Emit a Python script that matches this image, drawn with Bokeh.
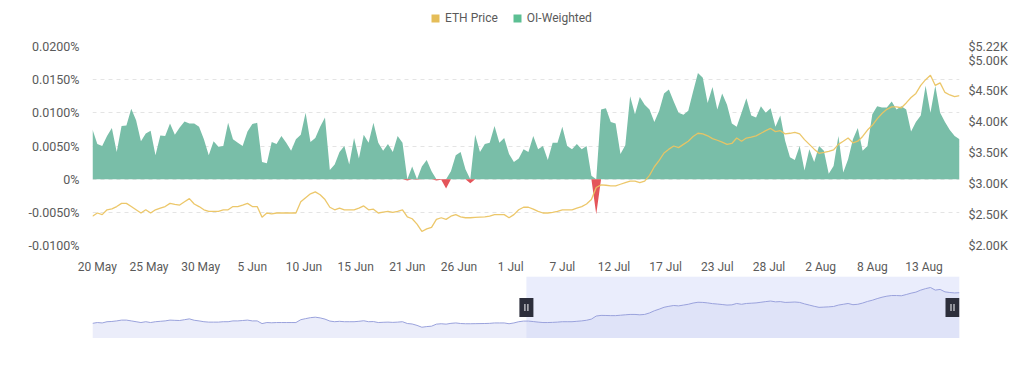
import numpy as np
import pandas as pd
from bokeh.plotting import figure
from bokeh.models import (Range1d, LinearAxis, FixedTicker, CustomJSTickFormatter,
                          Legend, LegendItem, BoxAnnotation, ColumnDataSource)
from bokeh.layouts import column
from bokeh.embed import file_html
from bokeh.resources import INLINE

# ---------------- data ----------------
start_time = "2025-05-19 12:00"
step = "12h"

# OI-weighted funding rate, in percent
oi_weighted = [
    0.0075, 0.0053, 0.0050, 0.0065, 0.0077, 0.0041, 0.0080, 0.0081, 0.0106, 0.0089,
    0.0057, 0.0069, 0.0073, 0.0036, 0.0066, 0.0065, 0.0084, 0.0067, 0.0078, 0.0087,
    0.0084, 0.0084, 0.0079, 0.0060, 0.0036, 0.0057, 0.0049, 0.0050, 0.0085, 0.0060,
    0.0055, 0.0050, 0.0072, 0.0083, 0.0085, 0.0026, 0.0024, 0.0056, 0.0053, 0.0065,
    0.0055, 0.0043, 0.0060, 0.0067, 0.0100, 0.0056, 0.0062, 0.0079, 0.0093, 0.0014,
    0.0022, 0.0041, 0.0050, 0.0022, 0.0062, 0.0031, 0.0067, 0.0055, 0.0085, 0.0055,
    0.0043, 0.0053, 0.0041, 0.0065, 0.0055, -0.0002, 0.0019, -0.0001, 0.0019, 0.0029,
    0.0012, -0.0002, -0.0001, -0.0014, 0.0012, 0.0036, 0.0041, 0.0015, -0.0006, 0.0067,
    0.0041, 0.0053, 0.0055, 0.0080, 0.0055, 0.0062, 0.0038, 0.0026, 0.0031, 0.0045,
    0.0041, 0.0065, 0.0045, 0.0050, 0.0029, 0.0055, 0.0055, 0.0079, 0.0050, 0.0045,
    0.0053, 0.0045, 0.0050, 0.0005, -0.0053, 0.0105, 0.0107, 0.0086, 0.0084, 0.0038,
    0.0051, 0.0125, 0.0098, 0.0124, 0.0112, 0.0105, 0.0086, 0.0103, 0.0129, 0.0135,
    0.0117, 0.0100, 0.0097, 0.0103, 0.0132, 0.0160, 0.0153, 0.0115, 0.0139, 0.0105,
    0.0129, 0.0112, 0.0084, 0.0079, 0.0100, 0.0122, 0.0096, 0.0093, 0.0110, 0.0100,
    0.0107, 0.0079, 0.0096, 0.0058, 0.0033, 0.0029, 0.0050, 0.0013, 0.0045, 0.0026,
    0.0050, 0.0043, 0.0008, 0.0020, 0.0065, 0.0010, 0.0030, 0.0060, 0.0077, 0.0043,
    0.0050, 0.0098, 0.0110, 0.0108, 0.0108, 0.0117, 0.0105, 0.0110, 0.0105, 0.0072,
    0.0086, 0.0096, 0.0141, 0.0100, 0.0141, 0.0100, 0.0086, 0.0074, 0.0065, 0.0060,
]

# ETH price, USD
eth_price = [
    2474, 2526, 2500, 2578, 2593, 2630, 2681, 2681, 2630, 2578,
    2526, 2578, 2526, 2578, 2604, 2630, 2681, 2666, 2655, 2707,
    2759, 2671, 2630, 2578, 2552, 2552, 2552, 2578, 2578, 2630,
    2630, 2655, 2681, 2630, 2630, 2459, 2526, 2510, 2526, 2526,
    2526, 2526, 2526, 2707, 2774, 2836, 2867, 2821, 2743, 2619,
    2578, 2604, 2578, 2578, 2578, 2604, 2640, 2578, 2588, 2526,
    2541, 2552, 2536, 2552, 2578, 2464, 2433, 2345, 2227, 2268,
    2294, 2423, 2449, 2423, 2474, 2500, 2464, 2449, 2449, 2454,
    2459, 2464, 2474, 2500, 2500, 2500, 2449, 2500, 2578, 2619,
    2619, 2588, 2552, 2526, 2526, 2536, 2552, 2578, 2578, 2578,
    2604, 2630, 2671, 2743, 2939, 2980, 2975, 2965, 2965, 2991,
    3017, 3042, 3042, 3017, 3042, 3135, 3274, 3378, 3497, 3559,
    3610, 3584, 3636, 3687, 3765, 3816, 3806, 3775, 3729, 3703,
    3672, 3636, 3651, 3739, 3687, 3739, 3755, 3775, 3816, 3858,
    3894, 3842, 3858, 3806, 3816, 3832, 3806, 3713, 3636, 3559,
    3492, 3507, 3523, 3548, 3636, 3687, 3739, 3661, 3687, 3765,
    3868, 3945, 4048, 4136, 4203, 4244, 4244, 4229, 4307, 4394,
    4461, 4590, 4683, 4755, 4590, 4632, 4477, 4436, 4410, 4425,
]

tick_labels = ["20 May", "25 May", "30 May", "5 Jun", "10 Jun", "15 Jun", "21 Jun",
               "26 Jun", "1 Jul", "7 Jul", "12 Jul", "17 Jul", "23 Jul", "28 Jul",
               "2 Aug", "8 Aug", "13 Aug"]
first_tick = "2025-05-20 00:00"
tick_every_hours = 128

left_ticks = [-0.01, -0.005, 0, 0.005, 0.01, 0.015, 0.02]
right_ticks = [2000, 2500, 3000, 3500, 4000, 4500, 5000, 5220]

nav_selection_start = "2025-07-03 07:00"

# ---------------- styling ----------------
FONT = "Roboto"
TXT = "#5a5a5a"
GREEN = "#79bea8"
GREEN_LEG = "#5cbf93"
RED = "#e4555a"
GOLD = "#ebc462"
GOLD_LEG = "#e5bd58"

dates = pd.date_range(start_time, periods=len(oi_weighted), freq=step)
oi = np.array(oi_weighted, dtype=float)
src = ColumnDataSource(dict(
    date=dates,
    zero=np.zeros(len(oi)),
    pos=np.clip(oi, 0, None),
    neg=np.clip(oi, None, 0),
    price=np.array(eth_price, dtype=float),
))

W = 1016
LEFT, RIGHT = 92, W - 959
x_range = Range1d(dates[0], dates[-1])

# ---------------- legend strip ----------------
LH = 34
lf = figure(width=W, height=LH, x_range=Range1d(0, 1), y_range=Range1d(0, 1),
            output_backend="svg", toolbar_location=None,
            x_axis_location=None, y_axis_location=None,
            min_border_left=LEFT, min_border_right=RIGHT, min_border_top=0, min_border_bottom=0)
lf.outline_line_color = None
lf.grid.grid_line_color = None
lf.border_fill_color = "white"
# off-range placeholder boxes: only their legend swatches are seen
r_eth = lf.quad(left=[-5], right=[-4], bottom=[-5], top=[-4], fill_color=GOLD_LEG, line_color=None)
r_oi = lf.quad(left=[-5], right=[-4], bottom=[-5], top=[-4], fill_color=GREEN_LEG, line_color=None)
legend = Legend(items=[LegendItem(label="ETH Price", renderers=[r_eth]),
                       LegendItem(label="OI-Weighted", renderers=[r_oi])],
                orientation="horizontal", location=(338, 9),
                border_line_color=None, background_fill_alpha=0.0,
                label_text_font=FONT, label_text_font_size="12px", label_text_color=TXT,
                glyph_width=10, glyph_height=10, label_standoff=5, spacing=14,
                padding=0, margin=0)
lf.add_layout(legend)

# ---------------- main chart ----------------
p = figure(width=W, height=276 - LH, x_axis_type="datetime", x_range=x_range,
           y_range=Range1d(-0.01, 0.02), output_backend="svg", toolbar_location=None,
           min_border_left=LEFT, min_border_right=RIGHT, min_border_top=46 - LH,
           min_border_bottom=22)
p.extra_y_ranges = {"price": Range1d(2000, 5220)}
p.outline_line_color = None
p.background_fill_color = "white"
p.border_fill_color = "white"
p.xgrid.grid_line_color = None
p.ygrid.grid_line_color = "#e4e4e4"
p.ygrid.grid_line_dash = "4 4"

p.varea(x="date", y1="zero", y2="pos", source=src, fill_color=GREEN, fill_alpha=1.0)
p.varea(x="date", y1="zero", y2="neg", source=src, fill_color=RED, fill_alpha=1.0)
p.line(x="date", y="price", source=src, y_range_name="price", line_color=GOLD,
       line_width=1.3, line_alpha=0.95)

# x axis
tick_pos = [(pd.Timestamp(first_tick) + pd.Timedelta(hours=tick_every_hours * k)).value / 1e6
            for k in range(len(tick_labels))]
xa = p.xaxis[0]
xa.ticker = FixedTicker(ticks=tick_pos)
xa.major_label_overrides = {t: lab for t, lab in zip(tick_pos, tick_labels)}
xa.axis_line_color = None
xa.major_tick_line_color = None
xa.minor_tick_line_color = None
xa.major_label_standoff = 8
xa.major_label_text_font = FONT
xa.major_label_text_font_size = "12px"
xa.major_label_text_color = TXT

# left axis
ya = p.yaxis[0]
ya.ticker = FixedTicker(ticks=left_ticks)
ya.formatter = CustomJSTickFormatter(code="return Math.abs(tick) < 1e-12 ? '0%' : tick.toFixed(4) + '%';")
ya.axis_line_color = None
ya.major_tick_line_color = None
ya.minor_tick_line_color = None
ya.major_label_standoff = 7
ya.major_label_text_font = FONT
ya.major_label_text_font_size = "12.5px"
ya.major_label_text_color = TXT

# right axis
ra = LinearAxis(y_range_name="price", ticker=FixedTicker(ticks=right_ticks),
                formatter=CustomJSTickFormatter(code="return '$' + (tick/1000).toFixed(2) + 'K';"))
ra.axis_line_color = None
ra.major_tick_line_color = None
ra.minor_tick_line_color = None
ra.major_label_standoff = 3
ra.major_label_text_font = FONT
ra.major_label_text_font_size = "12.5px"
ra.major_label_text_color = TXT
p.add_layout(ra, "right")

# ---------------- navigator ----------------
nav_lo, nav_hi = 1510, 5455
nav = figure(width=W, height=62, x_axis_type="datetime", x_range=x_range,
             y_range=Range1d(nav_lo, nav_hi), output_backend="svg", toolbar_location=None,
             x_axis_location=None, y_axis_location=None,
             min_border_left=LEFT, min_border_right=RIGHT,
             min_border_top=0, min_border_bottom=0)
nav.outline_line_color = None
nav.grid.grid_line_color = None
nav.background_fill_color = "white"
nav.border_fill_color = "white"

sel_start = pd.Timestamp(nav_selection_start)
sel_end = dates[-1]
nav.add_layout(BoxAnnotation(left=sel_start.value / 1e6, right=sel_end.value / 1e6,
                             fill_color="#dfe3fb", fill_alpha=0.65, line_color=None,
                             level="underlay"))
src_nav = ColumnDataSource(dict(date=dates, base=np.full(len(dates), nav_lo),
                                price=np.array(eth_price, dtype=float)))
nav.varea(x="date", y1="base", y2="price", source=src_nav, fill_color="#d3d8f4", fill_alpha=0.45)
nav.line(x="date", y="price", source=src_nav, line_color="#9aa2dc", line_width=1.0)

mid = (nav_lo + nav_hi) / 2
hpx = (dates[1] - dates[0]) / 4.844          # time per screen pixel
handle_x = [sel_start, sel_end - 7 * hpx]
nav.rect(x=handle_x, y=[mid, mid], width=14, height=19, width_units="screen",
         height_units="screen", fill_color="#2c2e3b", line_color=None)
off = 1.5 * hpx
nav.scatter(x=[handle_x[0] - off, handle_x[0] + off, handle_x[1] - off, handle_x[1] + off],
            y=[mid] * 4, marker="dash", angle=np.pi / 2, size=7,
            line_color="#d8d8de", line_width=1.2)

layout = column(lf, p, nav, spacing=0)
open("out.html", "w").write(file_html(layout, INLINE))
